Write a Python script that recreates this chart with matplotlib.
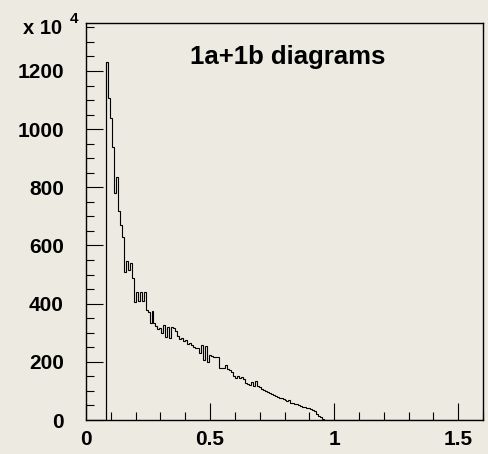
import numpy as np
import matplotlib
matplotlib.use('Agg')
import matplotlib.pyplot as plt
from matplotlib.ticker import MultipleLocator

# histogram: 200 bins from 0 to 1.6, counts in units of 10^4
n_bins = 200
x_min, x_max = 0.0, 1.6
first_bin = 10  # first filled bin starts at 0.08

counts = [
    1230, 1108, 1040, 940, 780, 835, 720, 670, 630, 510,
    545, 516, 540, 488, 407, 441, 410, 440, 408, 440,
    378, 370, 335, 375, 335, 322, 312, 316, 300, 326,
    285, 320, 282, 320, 316, 305, 290, 280, 282, 270,
    275, 262, 265, 258, 252, 248, 247, 230, 258, 205,
    255, 200, 225, 220, 218, 218, 216, 178, 178, 178,
    190, 176, 172, 165, 152, 145, 150, 145, 148, 140,
    128, 125, 120, 132, 118, 135, 117, 115, 108, 104,
    100, 96, 92, 90, 86, 84, 80, 77, 75, 72,
    70, 66, 70, 60, 58, 56, 54, 52, 49, 46,
    44, 42, 40, 38, 36, 30, 22, 15, 9, 4,
    1,
]

title = '1a+1b diagrams'
y_ticks = [0, 200, 400, 600, 800, 1000, 1200]
x_ticks = [0, 0.5, 1, 1.5]
x_tick_labels = ['0', '0.5', '1', '1.5']

values = np.zeros(n_bins)
values[first_bin:first_bin + len(counts)] = counts
edges = np.linspace(x_min, x_max, n_bins + 1)

bg = '#edebe1'
plt.rcParams['font.family'] = ['Liberation Sans', 'DejaVu Sans']

fig = plt.figure(figsize=(4.89, 4.54), dpi=100, facecolor=bg)
ax = fig.add_axes([86 / 489, 34 / 454, 397 / 489, 397 / 454])
ax.set_facecolor(bg)

ax.stairs(values, edges, color='black', linewidth=0.8)
# left edge of the first filled bin down to zero
ax.vlines(edges[first_bin], 0, counts[0], color='black', linewidth=0.8)

ax.set_xlim(x_min, x_max)
ax.set_ylim(0, 1365)

ax.set_xticks(x_ticks)
ax.set_xticklabels(x_tick_labels)
ax.set_yticks(y_ticks)
ax.xaxis.set_minor_locator(MultipleLocator(0.1))
ax.yaxis.set_minor_locator(MultipleLocator(50))

ax.tick_params(axis='both', which='both', direction='in', top=False, right=False,
               width=0.8, colors='black')
ax.tick_params(axis='both', which='major', length=12.2, labelsize=15)
ax.tick_params(axis='both', which='minor', length=6)
ax.tick_params(axis='x', which='major', pad=7)
ax.tick_params(axis='y', which='major', pad=16)
for lab in ax.get_xticklabels() + ax.get_yticklabels():
    lab.set_fontweight('bold')

for sp in ax.spines.values():
    sp.set_linewidth(1.0)
    sp.set_color('black')

ax.text(0.508, 0.915, title, transform=ax.transAxes, ha='center', va='center',
        fontsize=18.5, fontweight='bold')

fig.text(23 / 489, 1 - 34 / 454, 'x 10', ha='left', va='baseline',
         fontsize=14.5, fontweight='bold')
fig.text(70 / 489, 1 - 23 / 454, '4', ha='left', va='baseline',
         fontsize=11, fontweight='bold')

fig.savefig('out.png', dpi=100, facecolor=bg)
